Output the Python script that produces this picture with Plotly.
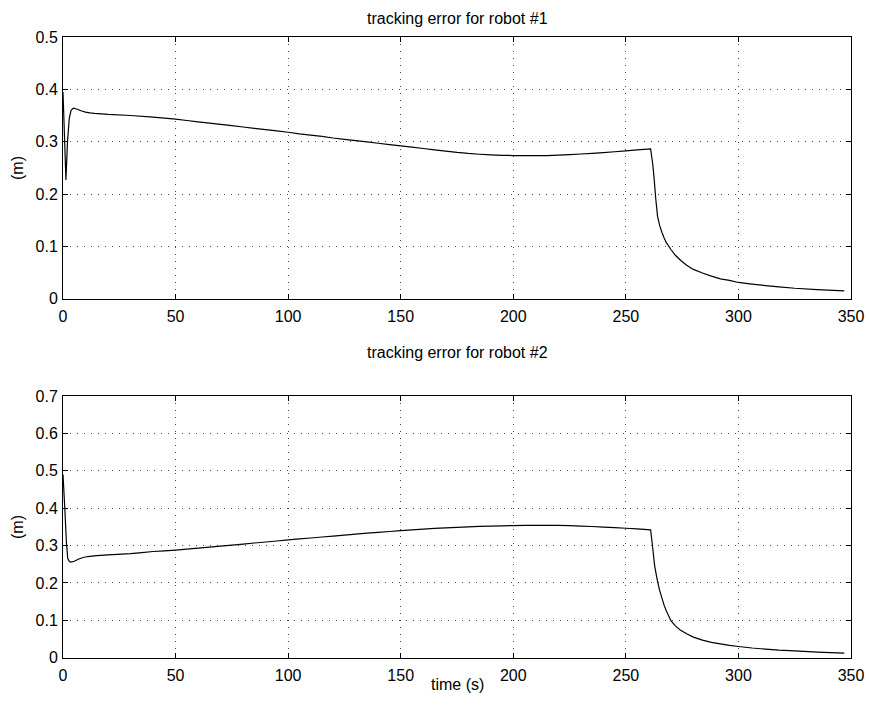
import plotly.graph_objects as go

# Tracking error of robot #1 (time in s, error in m)
t1 = [0, 1.3, 2.0, 2.8, 3.6, 4.6, 6, 8, 10, 12, 14, 20, 30, 40, 45, 50, 55, 60,
      65, 70, 75, 80, 85, 90, 95, 100, 105, 110, 115, 120, 125, 130, 135, 140,
      145, 150, 155, 160, 165, 170, 175, 180, 185, 190, 195, 200, 205, 210,
      215, 220, 225, 230, 235, 240, 245, 250, 255, 261, 262, 262.6, 263.3,
      264.1, 265, 266, 267, 268, 270, 272, 274.4, 277, 280, 284, 288, 292, 296,
      300, 306, 312, 318, 325, 335, 347]
e1 = [0.395, 0.227, 0.300, 0.345, 0.360, 0.364, 0.3625, 0.359, 0.3565, 0.355,
      0.354, 0.352, 0.350, 0.347, 0.345, 0.343, 0.3405, 0.338, 0.3355, 0.333,
      0.3305, 0.328, 0.3255, 0.323, 0.3205, 0.318, 0.315, 0.3125, 0.310, 0.307,
      0.3045, 0.302, 0.2995, 0.297, 0.2945, 0.292, 0.2895, 0.287, 0.2845,
      0.282, 0.2795, 0.2775, 0.2760, 0.2748, 0.2740, 0.2735, 0.2732, 0.2732,
      0.2735, 0.2742, 0.2752, 0.2765, 0.2778, 0.2792, 0.2808, 0.2825, 0.2842,
      0.286, 0.255, 0.227, 0.190, 0.157, 0.140, 0.127, 0.116, 0.107, 0.094,
      0.083, 0.073, 0.064, 0.056, 0.049, 0.043, 0.038, 0.035, 0.031, 0.028,
      0.025, 0.0225, 0.020, 0.0175, 0.015]

# Tracking error of robot #2
t2 = [0, 0.8, 1.5, 2.1, 2.8, 3.5, 5, 7, 9, 11, 15, 20, 26, 30, 35, 40, 45, 50,
      55, 60, 65, 70, 75, 80, 85, 90, 95, 100, 105, 110, 115, 120, 125, 130,
      135, 140, 145, 150, 155, 160, 165, 170, 175, 180, 185, 190, 195, 200,
      205, 210, 215, 220, 225, 230, 235, 240, 245, 250, 255, 261, 262, 262.8,
      264, 265, 266, 267, 268, 270, 272, 274, 277, 280, 284, 288, 292, 296, 300,
      306, 312, 318, 325, 335, 347]
e2 = [0.490, 0.400, 0.310, 0.266, 0.257, 0.2555, 0.258, 0.264, 0.268, 0.2706,
      0.273, 0.275, 0.277, 0.2785, 0.2812, 0.284, 0.286, 0.288, 0.2905, 0.293,
      0.2958, 0.2985, 0.3012, 0.304, 0.3068, 0.3095, 0.3122, 0.315, 0.3176,
      0.3202, 0.3228, 0.3254, 0.328, 0.3305, 0.333, 0.3353, 0.3376, 0.340,
      0.342, 0.344, 0.3458, 0.3474, 0.3488, 0.350, 0.3511, 0.352, 0.3528,
      0.3534, 0.3538, 0.354, 0.354, 0.3538, 0.3533, 0.3522, 0.351, 0.3495,
      0.348, 0.3463, 0.3445, 0.342, 0.290, 0.245, 0.206, 0.180, 0.160, 0.140,
      0.125, 0.099, 0.085, 0.075, 0.064, 0.055, 0.047, 0.041, 0.037, 0.033,
      0.030, 0.026, 0.023, 0.020, 0.018, 0.015, 0.0125]

x_ticks = [0, 50, 100, 150, 200, 250, 300, 350]
y1_ticks = [0, 0.1, 0.2, 0.3, 0.4, 0.5]
y2_ticks = [0, 0.1, 0.2, 0.3, 0.4, 0.5, 0.6, 0.7]

W, H = 869, 708
FONT = "Liberation Sans, Arial, Helvetica, sans-serif"
FS = 16

line_style = dict(color="black", width=1.2, simplify=False)

fig = go.Figure()
fig.add_trace(go.Scatter(x=t1, y=e1, mode="lines", xaxis="x", yaxis="y",
                         line=line_style, showlegend=False))
fig.add_trace(go.Scatter(x=t2, y=e2, mode="lines", xaxis="x2", yaxis="y2",
                         line=line_style, showlegend=False))

xdom = [63 / W, 851 / W]
ydom1 = [1 - 298.7 / H, 1 - 37 / H]
ydom2 = [1 - 657.7 / H, 1 - 396 / H]

axis_common = dict(
    showline=True, linecolor="black", linewidth=1, mirror="allticks",
    ticks="inside", ticklen=5, tickcolor="black", tickwidth=1,
    showgrid=True, gridcolor="#444444", gridwidth=1, griddash="1px,6px",
    zeroline=False, automargin=False,
    tickfont=dict(family=FONT, size=FS, color="black"),
)


def labels(vals):
    return ["0" if v == 0 else f"{v:g}" for v in vals]


fig.update_layout(
    template="none",
    width=W, height=H,
    margin=dict(l=0, r=0, t=0, b=0, pad=0),
    paper_bgcolor="white", plot_bgcolor="white",
    font=dict(family=FONT, size=FS, color="black"),
    showlegend=False,
    xaxis=dict(domain=xdom, range=[0, 350], tickvals=x_ticks, anchor="y",
               ticklabelstandoff=3, **axis_common),
    yaxis=dict(domain=ydom1, range=[0, 0.5], tickvals=y1_ticks,
               ticktext=labels(y1_ticks), anchor="x",
               ticklabelstandoff=1, **axis_common),
    xaxis2=dict(domain=xdom, range=[0, 350], tickvals=x_ticks, anchor="y2",
                ticklabelstandoff=3, **axis_common),
    yaxis2=dict(domain=ydom2, range=[0, 0.7], tickvals=y2_ticks,
                ticktext=labels(y2_ticks), anchor="x2",
                ticklabelstandoff=1, **axis_common),
    annotations=[
        dict(text="tracking error for robot #1", x=457 / W, y=1 - 18 / H,
             xref="paper", yref="paper", showarrow=False,
             xanchor="center", yanchor="middle", font=dict(size=FS)),
        dict(text="tracking error for robot #2", x=457 / W, y=1 - 352 / H,
             xref="paper", yref="paper", showarrow=False,
             xanchor="center", yanchor="middle", font=dict(size=FS)),
        dict(text="(m)", x=17 / W, y=1 - 168 / H, xref="paper", yref="paper",
             showarrow=False, textangle=-90, xanchor="center",
             yanchor="middle", font=dict(size=FS)),
        dict(text="(m)", x=17 / W, y=1 - 527 / H, xref="paper", yref="paper",
             showarrow=False, textangle=-90, xanchor="center",
             yanchor="middle", font=dict(size=FS)),
        dict(text="time (s)", x=457 / W, y=1 - 684 / H, xref="paper",
             yref="paper", showarrow=False, xanchor="center",
             yanchor="middle", font=dict(size=FS)),
    ],
)

fig.write_html("out.html")
